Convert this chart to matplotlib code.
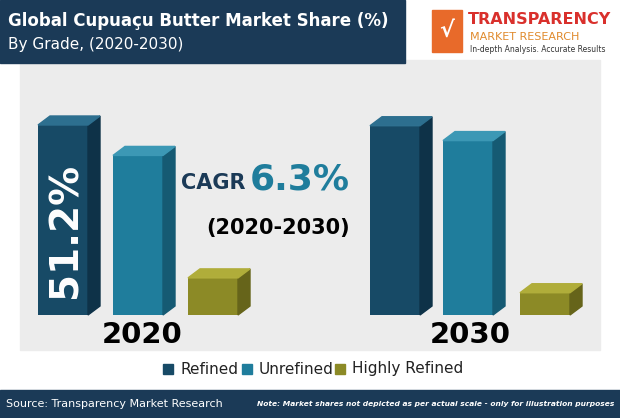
import matplotlib
matplotlib.use("Agg")
import matplotlib.pyplot as plt
from matplotlib.patches import Polygon, Rectangle

years = ["2020", "2030"]
grades = ["Refined", "Unrefined", "Highly Refined"]
share_2020 = [51.2, 43.0, 10.0]
share_2030 = [51.0, 47.0, 6.0]
cagr = "6.3%"

front = ["#174a66", "#1f7d9c", "#8c8a26"]
side = ["#0e3248", "#155a73", "#66641a"]
top = ["#2d6f8f", "#3c98b5", "#b0ad3a"]

fig = plt.figure(figsize=(6.2, 4.18), dpi=100)
ax = fig.add_axes([0, 0, 1, 1])
ax.set_xlim(0, 620); ax.set_ylim(418, 0); ax.axis("off")
ax.add_patch(Rectangle((0, 0), 620, 418, color="white", zorder=0))
ax.add_patch(Rectangle((20, 60), 580, 290, color="#ececec", zorder=0))

# header
ax.add_patch(Rectangle((0, 0), 405, 63, color="#1b3a57", zorder=1))
ax.text(8, 21, "Global Cupuaçu Butter Market Share (%)", color="white", fontsize=12, fontweight="bold", va="center")
ax.text(8, 45, "By Grade, (2020-2030)", color="white", fontsize=11, va="center")
ax.text(468, 20, "TRANSPARENCY", color="#d9302c", fontsize=11.5, fontweight="bold", va="center")
ax.text(470, 37, "MARKET RESEARCH", color="#e08a2c", fontsize=8, va="center")
ax.text(470, 49, "In-depth Analysis. Accurate Results", color="#333333", fontsize=5.5, va="center")
ax.add_patch(Rectangle((432, 10), 30, 42, color="#e86a2a", zorder=2))
ax.text(447, 31, "√", color="white", fontsize=16, fontweight="bold", ha="center", va="center", zorder=3)

base = 315
k = 190 / 51.2
w = 50
dx, dy = 12, 9
groups = [(share_2020, [38, 113, 188]), (share_2030, [370, 443, 520])]
for vals, xs in groups:
    for i, (v, x) in enumerate(zip(vals, xs)):
        h = v * k
        ax.bar(x + w / 2, -h, width=w, bottom=base, color=front[i], zorder=3)
        t = base - h
        ax.add_patch(Polygon([(x + w, t), (x + w + dx, t - dy), (x + w + dx, base - dy), (x + w, base)], color=side[i], zorder=3))
        ax.add_patch(Polygon([(x, t), (x + dx, t - dy), (x + w + dx, t - dy), (x + w, t)], color=top[i], zorder=3))

ax.text(65, 230, f"{share_2020[0]}%", color="white", fontsize=28, fontweight="bold", rotation=90, ha="center", va="center", zorder=4)
ax.text(245, 183, "CAGR", color="#1b3a57", fontsize=15, fontweight="bold", ha="right", va="center")
ax.text(250, 180, cagr, color="#1f7d9c", fontsize=26, fontweight="bold", ha="left", va="center")
ax.text(278, 228, "(2020-2030)", color="black", fontsize=15, fontweight="bold", ha="center", va="center")
ax.text(142, 335, years[0], fontsize=21, fontweight="bold", ha="center", va="center")
ax.text(470, 335, years[1], fontsize=21, fontweight="bold", ha="center", va="center")

lx = [163, 242, 335]
for i, g in enumerate(grades):
    ax.add_patch(Rectangle((lx[i], 364), 10, 10, color=front[i], zorder=3))
    ax.text(lx[i] + 17, 369, g, fontsize=11, va="center", color="#222222")

ax.add_patch(Rectangle((0, 390), 620, 28, color="#1b3a57", zorder=1))
ax.text(6, 404, "Source: Transparency Market Research", color="white", fontsize=8, va="center")
ax.text(614, 404, "Note: Market shares not depicted as per actual scale - only for illustration purposes",
        color="white", fontsize=5.4, fontstyle="italic", fontweight="bold", ha="right", va="center")

fig.savefig("out.png", dpi=100)
